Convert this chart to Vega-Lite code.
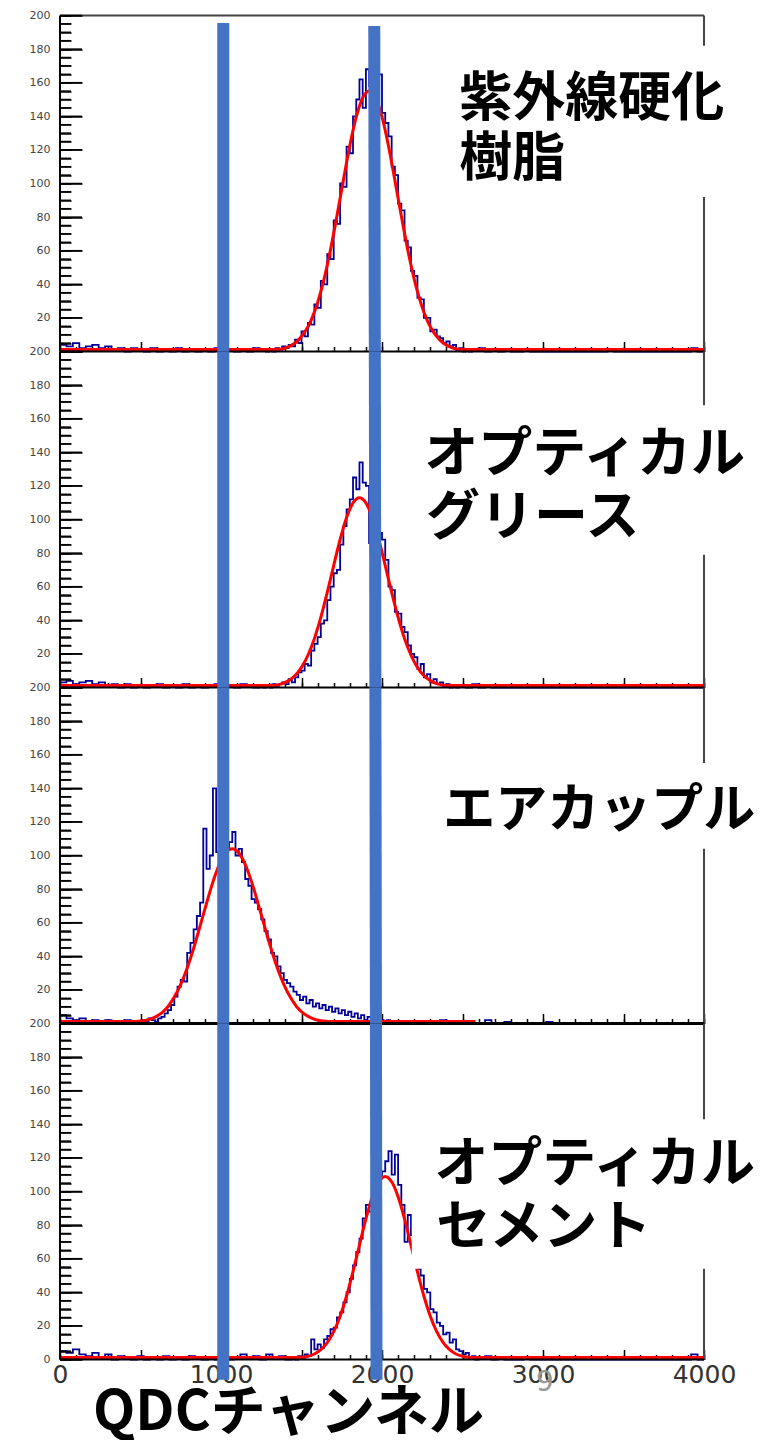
{
"$schema": "https://vega.github.io/schema/vega-lite/v6.json",
"background": "white",
"padding": {"left": 29, "top": 9.5, "right": 0, "bottom": 6},
"autosize": {"type": "pad"},
"spacing": 0,
"bounds": "flush",
"config": {"view": {"stroke": null}, "font": "DejaVu Sans", "axis": {"labelOverlap": false, "labelFlush": false, "labelBound": false, "grid": false, "title": null, "domain": false}},
"datasets": {
"ymaj": [{"v":0},{"v":20},{"v":40},{"v":60},{"v":80},{"v":100},{"v":120},{"v":140},{"v":160},{"v":180},{"v":200}],
"ymin": [{"v":5},{"v":10},{"v":15},{"v":25},{"v":30},{"v":35},{"v":45},{"v":50},{"v":55},{"v":65},{"v":70},{"v":75},{"v":85},{"v":90},{"v":95},{"v":105},{"v":110},{"v":115},{"v":125},{"v":130},{"v":135},{"v":145},{"v":150},{"v":155},{"v":165},{"v":170},{"v":175},{"v":185},{"v":190},{"v":195}],
"h1": [{"x":0,"y":4},{"x":40,"y":3},{"x":80,"y":5},{"x":120,"y":2},{"x":160,"y":3},{"x":200,"y":4},{"x":240,"y":2},{"x":280,"y":3},{"x":320,"y":1},{"x":360,"y":2},{"x":400,"y":0},{"x":440,"y":2},{"x":480,"y":1},{"x":520,"y":0},{"x":560,"y":2},{"x":600,"y":0},{"x":640,"y":1},{"x":680,"y":0},{"x":720,"y":2},{"x":760,"y":0},{"x":800,"y":1},{"x":840,"y":0},{"x":880,"y":1},{"x":920,"y":0},{"x":960,"y":2},{"x":1000,"y":0},{"x":1040,"y":1},{"x":1080,"y":0},{"x":1120,"y":1},{"x":1160,"y":0},{"x":1200,"y":2},{"x":1240,"y":1},{"x":1280,"y":0},
{"x":1300,"y":1},{"x":1320,"y":0},{"x":1340,"y":2},{"x":1360,"y":1},{"x":1380,"y":3},{"x":1400,"y":2},{"x":1420,"y":4},{"x":1440,"y":3},{"x":1460,"y":7},{"x":1480,"y":5},{"x":1500,"y":12},{"x":1520,"y":9},{"x":1540,"y":17},{"x":1560,"y":16},{"x":1580,"y":28},{"x":1600,"y":26},{"x":1620,"y":42},{"x":1640,"y":40},{"x":1660,"y":58},{"x":1680,"y":55},{"x":1700,"y":78},{"x":1720,"y":76},{"x":1740,"y":100},{"x":1760,"y":98},{"x":1780,"y":122},{"x":1800,"y":118},{"x":1820,"y":140},{"x":1840,"y":150},{"x":1860,"y":162},{"x":1880,"y":145},{"x":1900,"y":168},{"x":1920,"y":158},{"x":1940,"y":176},{"x":1960,"y":150},{"x":1980,"y":165},{"x":2000,"y":142},{"x":2020,"y":136},{"x":2040,"y":128},{"x":2060,"y":110},{"x":2080,"y":105},{"x":2100,"y":88},{"x":2120,"y":84},{"x":2140,"y":66},{"x":2160,"y":62},{"x":2180,"y":48},{"x":2200,"y":45},{"x":2220,"y":32},{"x":2240,"y":31},{"x":2260,"y":20},{"x":2280,"y":20},{"x":2300,"y":12},{"x":2320,"y":13},{"x":2340,"y":9},{"x":2360,"y":8},{"x":2380,"y":5},{"x":2400,"y":6},{"x":2420,"y":3},{"x":2440,"y":4},{"x":2460,"y":1},{"x":2480,"y":2},{"x":2500,"y":0},{"x":2520,"y":1},{"x":2540,"y":0},
{"x":2560,"y":1},{"x":2600,"y":2},{"x":2640,"y":0},{"x":2680,"y":1},{"x":2720,"y":0},{"x":2760,"y":1},{"x":2800,"y":0},{"x":2880,"y":1},{"x":2920,"y":0},{"x":3400,"y":1},{"x":3440,"y":0},{"x":3920,"y":2},{"x":3960,"y":0},{"x":4000,"y":0}],
"h2": [{"x":0,"y":3},{"x":40,"y":4},{"x":80,"y":2},{"x":120,"y":3},{"x":160,"y":4},{"x":200,"y":2},{"x":240,"y":3},{"x":280,"y":1},{"x":320,"y":2},{"x":360,"y":0},{"x":400,"y":2},{"x":440,"y":0},{"x":480,"y":1},{"x":520,"y":0},{"x":560,"y":1},{"x":600,"y":2},{"x":640,"y":0},{"x":680,"y":1},{"x":720,"y":0},{"x":760,"y":2},{"x":800,"y":0},{"x":840,"y":1},{"x":880,"y":0},{"x":920,"y":1},{"x":960,"y":2},{"x":1000,"y":0},{"x":1040,"y":1},{"x":1080,"y":0},{"x":1120,"y":2},{"x":1160,"y":1},{"x":1200,"y":0},{"x":1240,"y":1},
{"x":1260,"y":0},{"x":1280,"y":1},{"x":1300,"y":0},{"x":1320,"y":2},{"x":1340,"y":1},{"x":1360,"y":2},{"x":1380,"y":3},{"x":1400,"y":2},{"x":1420,"y":5},{"x":1440,"y":3},{"x":1460,"y":6},{"x":1480,"y":9},{"x":1500,"y":10},{"x":1520,"y":14},{"x":1540,"y":13},{"x":1560,"y":22},{"x":1580,"y":26},{"x":1600,"y":30},{"x":1620,"y":38},{"x":1640,"y":40},{"x":1660,"y":52},{"x":1680,"y":60},{"x":1700,"y":68},{"x":1720,"y":70},{"x":1740,"y":85},{"x":1760,"y":96},{"x":1780,"y":106},{"x":1800,"y":112},{"x":1820,"y":125},{"x":1840,"y":118},{"x":1860,"y":134},{"x":1880,"y":122},{"x":1900,"y":120},{"x":1920,"y":86},{"x":1940,"y":108},{"x":1960,"y":100},{"x":1980,"y":92},{"x":2000,"y":88},{"x":2020,"y":76},{"x":2040,"y":60},{"x":2060,"y":58},{"x":2080,"y":45},{"x":2100,"y":44},{"x":2120,"y":36},{"x":2140,"y":33},{"x":2160,"y":25},{"x":2180,"y":20},{"x":2200,"y":18},{"x":2220,"y":11},{"x":2240,"y":14},{"x":2260,"y":6},{"x":2280,"y":8},{"x":2300,"y":3},{"x":2320,"y":5},{"x":2340,"y":2},{"x":2360,"y":3},{"x":2380,"y":1},{"x":2400,"y":2},{"x":2420,"y":0},{"x":2440,"y":1},{"x":2460,"y":0},
{"x":2480,"y":1},{"x":2520,"y":0},{"x":2560,"y":2},{"x":2600,"y":0},{"x":2640,"y":1},{"x":2680,"y":0},{"x":4000,"y":0}],
"h3": [{"x":0,"y":5},{"x":40,"y":3},{"x":80,"y":2},{"x":120,"y":3},{"x":160,"y":1},{"x":200,"y":2},{"x":240,"y":0},{"x":280,"y":2},{"x":320,"y":1},{"x":360,"y":0},{"x":400,"y":2},{"x":440,"y":1},
{"x":470,"y":1},{"x":490,"y":0},{"x":510,"y":2},{"x":530,"y":1},{"x":550,"y":3},{"x":570,"y":2},{"x":590,"y":1},{"x":610,"y":3},{"x":630,"y":4},{"x":650,"y":6},{"x":670,"y":8},{"x":690,"y":11},{"x":710,"y":16},{"x":730,"y":22},{"x":750,"y":26},{"x":770,"y":25},{"x":790,"y":42},{"x":810,"y":48},{"x":830,"y":56},{"x":850,"y":64},{"x":870,"y":72},{"x":890,"y":116},{"x":910,"y":92},{"x":930,"y":100},{"x":950,"y":140},{"x":970,"y":102},{"x":990,"y":100},{"x":1010,"y":106},{"x":1030,"y":104},{"x":1050,"y":108},{"x":1070,"y":114},{"x":1090,"y":100},{"x":1110,"y":104},{"x":1130,"y":96},{"x":1150,"y":86},{"x":1170,"y":82},{"x":1190,"y":74},{"x":1210,"y":72},{"x":1230,"y":68},{"x":1250,"y":62},{"x":1270,"y":55},{"x":1290,"y":50},{"x":1310,"y":42},{"x":1330,"y":40},{"x":1350,"y":34},{"x":1370,"y":30},{"x":1390,"y":26},{"x":1410,"y":24},{"x":1430,"y":22},{"x":1450,"y":19},{"x":1470,"y":17},{"x":1490,"y":14},{"x":1510,"y":16},{"x":1530,"y":12},{"x":1550,"y":14},{"x":1570,"y":10},{"x":1590,"y":12},{"x":1610,"y":9},{"x":1630,"y":11},{"x":1650,"y":8},{"x":1670,"y":10},{"x":1690,"y":7},{"x":1710,"y":9},{"x":1730,"y":6},{"x":1750,"y":8},{"x":1770,"y":5},{"x":1790,"y":7},{"x":1810,"y":4},{"x":1830,"y":6},{"x":1850,"y":3},{"x":1870,"y":5},{"x":1890,"y":2},{"x":1910,"y":4},{"x":1930,"y":2},{"x":1950,"y":3},{"x":1970,"y":1},{"x":1990,"y":2},{"x":2010,"y":1},{"x":2030,"y":2},{"x":2050,"y":0},{"x":2070,"y":1},{"x":2090,"y":0},
{"x":2200,"y":1},{"x":2240,"y":0},{"x":2360,"y":2},{"x":2400,"y":0},{"x":2640,"y":2},{"x":2680,"y":0},{"x":2760,"y":1},{"x":2800,"y":0},{"x":3020,"y":1},{"x":3060,"y":0},{"x":4000,"y":0}],
"h4": [{"x":0,"y":5},{"x":40,"y":4},{"x":80,"y":6},{"x":120,"y":3},{"x":160,"y":2},{"x":200,"y":4},{"x":240,"y":1},{"x":280,"y":3},{"x":320,"y":0},{"x":360,"y":2},{"x":400,"y":1},{"x":440,"y":0},{"x":480,"y":2},{"x":520,"y":0},{"x":560,"y":1},{"x":600,"y":0},{"x":640,"y":2},{"x":680,"y":0},{"x":720,"y":1},{"x":760,"y":0},{"x":800,"y":2},{"x":840,"y":1},{"x":880,"y":0},{"x":920,"y":1},{"x":960,"y":0},{"x":1000,"y":2},{"x":1040,"y":0},{"x":1080,"y":1},{"x":1120,"y":3},{"x":1160,"y":1},{"x":1200,"y":2},{"x":1240,"y":0},{"x":1280,"y":3},{"x":1320,"y":1},{"x":1360,"y":2},{"x":1400,"y":0},
{"x":1440,"y":1},{"x":1460,"y":0},{"x":1480,"y":2},{"x":1500,"y":1},{"x":1520,"y":3},{"x":1540,"y":2},{"x":1560,"y":12},{"x":1580,"y":6},{"x":1600,"y":9},{"x":1620,"y":7},{"x":1640,"y":12},{"x":1660,"y":14},{"x":1680,"y":18},{"x":1700,"y":19},{"x":1720,"y":25},{"x":1740,"y":28},{"x":1760,"y":34},{"x":1780,"y":40},{"x":1800,"y":48},{"x":1820,"y":56},{"x":1840,"y":64},{"x":1860,"y":72},{"x":1880,"y":84},{"x":1900,"y":92},{"x":1920,"y":88},{"x":1940,"y":102},{"x":1960,"y":96},{"x":1980,"y":108},{"x":2000,"y":112},{"x":2020,"y":118},{"x":2040,"y":124},{"x":2060,"y":110},{"x":2080,"y":122},{"x":2100,"y":104},{"x":2120,"y":92},{"x":2140,"y":70},{"x":2160,"y":86},{"x":2180,"y":74},{"x":2200,"y":62},{"x":2220,"y":54},{"x":2240,"y":50},{"x":2260,"y":42},{"x":2280,"y":40},{"x":2300,"y":30},{"x":2320,"y":28},{"x":2340,"y":22},{"x":2360,"y":20},{"x":2380,"y":15},{"x":2400,"y":16},{"x":2420,"y":10},{"x":2440,"y":12},{"x":2460,"y":6},{"x":2480,"y":5},{"x":2500,"y":3},{"x":2520,"y":4},{"x":2540,"y":1},{"x":2560,"y":2},{"x":2580,"y":0},{"x":2600,"y":1},
{"x":2640,"y":2},{"x":2680,"y":0},{"x":2720,"y":1},{"x":2760,"y":0},{"x":2880,"y":1},{"x":2920,"y":0},{"x":3920,"y":3},{"x":3960,"y":0},{"x":4000,"y":0}],
"f1": [{"x":0,"y":1.2},{"x":1320,"y":1.2},{"x":1360,"y":1.3},{"x":1400,"y":2.1},{"x":1440,"y":3.8},{"x":1480,"y":6.8},{"x":1520,"y":11.5},{"x":1560,"y":18.7},{"x":1600,"y":29.1},{"x":1640,"y":43.1},{"x":1680,"y":60.5},{"x":1720,"y":80.7},{"x":1760,"y":102},{"x":1800,"y":122.5},{"x":1840,"y":139.6},{"x":1880,"y":151},{"x":1920,"y":155},{"x":1960,"y":151},{"x":2000,"y":139.6},{"x":2040,"y":122.5},{"x":2080,"y":102},{"x":2120,"y":80.7},{"x":2160,"y":60.5},{"x":2200,"y":43.1},{"x":2240,"y":29.1},{"x":2280,"y":18.7},{"x":2320,"y":11.5},{"x":2360,"y":6.8},{"x":2400,"y":3.8},{"x":2440,"y":2.1},{"x":2480,"y":1.3},{"x":2520,"y":1.2},{"x":4000,"y":1.2}],
"f2": [{"x":0,"y":1.2},{"x":1300,"y":1.2},{"x":1340,"y":1.4},{"x":1380,"y":2.3},{"x":1420,"y":4.1},{"x":1460,"y":7.1},{"x":1500,"y":12.0},{"x":1540,"y":19.2},{"x":1580,"y":29.1},{"x":1620,"y":41.7},{"x":1660,"y":56.6},{"x":1700,"y":72.6},{"x":1740,"y":88.1},{"x":1780,"y":101.2},{"x":1820,"y":109.9},{"x":1860,"y":113},{"x":1900,"y":109.9},{"x":1940,"y":101.2},{"x":1980,"y":88.1},{"x":2020,"y":72.6},{"x":2060,"y":56.6},{"x":2100,"y":41.7},{"x":2140,"y":29.1},{"x":2180,"y":19.2},{"x":2220,"y":12.0},{"x":2260,"y":7.1},{"x":2300,"y":4.1},{"x":2340,"y":2.3},{"x":2380,"y":1.4},{"x":2420,"y":1.2},{"x":4000,"y":1.2}],
"f3": [{"x":0,"y":1.2},{"x":470,"y":1.2},{"x":510,"y":1.5},{"x":550,"y":2.2},{"x":590,"y":3.8},{"x":630,"y":6.2},{"x":670,"y":10.0},{"x":710,"y":15.7},{"x":750,"y":23.3},{"x":790,"y":33.1},{"x":830,"y":44.8},{"x":870,"y":58.0},{"x":910,"y":71.5},{"x":950,"y":84.3},{"x":990,"y":94.7},{"x":1030,"y":101.6},{"x":1070,"y":104},{"x":1110,"y":101.6},{"x":1150,"y":94.7},{"x":1190,"y":84.3},{"x":1230,"y":71.5},{"x":1270,"y":58.0},{"x":1310,"y":44.8},{"x":1350,"y":33.1},{"x":1390,"y":23.3},{"x":1430,"y":15.7},{"x":1470,"y":10.0},{"x":1510,"y":6.2},{"x":1550,"y":3.8},{"x":1590,"y":2.2},{"x":1630,"y":1.5},{"x":1670,"y":1.2},{"x":2580,"y":1.2}],
"f4": [{"x":0,"y":1.2},{"x":1460,"y":1.2},{"x":1500,"y":1.3},{"x":1540,"y":1.9},{"x":1580,"y":3.3},{"x":1620,"y":5.9},{"x":1660,"y":10.1},{"x":1700,"y":16.6},{"x":1740,"y":25.8},{"x":1780,"y":37.8},{"x":1820,"y":52.3},{"x":1860,"y":68.1},{"x":1900,"y":83.7},{"x":1940,"y":96.9},{"x":1980,"y":105.8},{"x":2020,"y":109},{"x":2060,"y":105.8},{"x":2100,"y":96.9},{"x":2140,"y":83.7},{"x":2180,"y":68.1},{"x":2220,"y":52.3},{"x":2260,"y":37.8},{"x":2300,"y":25.8},{"x":2340,"y":16.6},{"x":2380,"y":10.1},{"x":2420,"y":5.9},{"x":2460,"y":3.3},{"x":2500,"y":1.9},{"x":2540,"y":1.3},{"x":2580,"y":1.2},{"x":4000,"y":1.2}],
"one": [{}]
},
"vconcat": [
{
"width": 644, "height": 336,
"resolve": {"axis": {"x": "independent", "y": "independent"}},
"layer": [
{"data": {"name": "h1"}, "mark": {"type": "line", "interpolate": "step-after", "color": "#000099", "strokeWidth": 1.8},
 "encoding": {
  "x": {"field": "x", "type": "quantitative", "scale": {"domain": [0, 4000], "nice": false, "zero": false},
   "axis": {"orient": "bottom", "values": [0,500,1000,1500,2000,2500,3000,3500,4000], "labels": false, "tickColor": "#000000", "tickWidth": 1.5, "tickSize": 10, "offset": -10}},
  "y": {"field": "y", "type": "quantitative", "scale": {"domain": [0, 200], "nice": false, "zero": false},
   "axis": {"orient": "left", "values": [0,20,40,60,80,100,120,140,160,180,200], "format": "d", "ticks": true, "tickColor": "#000000", "tickWidth": 1.5, "tickOpacity": 1, "tickSize": 22, "offset": -22, "zindex": 2, "labelExpr": "datum.value > 0 ? datum.label : ''", "labelPadding": 10, "labelFont": "DejaVu Sans", "labelFontSize": 11, "labelColor": "#444444"}}
 }},
{"data": {"name": "f1"}, "mark": {"type": "line", "interpolate": "monotone", "color": "#ff0000", "strokeWidth": 3},
 "encoding": {
  "x": {"field": "x", "type": "quantitative", "axis": {"orient": "bottom", "values": [0,100,200,300,400,500,600,700,800,900,1000,1100,1200,1300,1400,1500,1600,1700,1800,1900,2000,2100,2200,2300,2400,2500,2600,2700,2800,2900,3000,3100,3200,3300,3400,3500,3600,3700,3800,3900,4000], "labels": false, "tickColor": "#000000", "tickWidth": 1.5, "tickSize": 5, "offset": -5}},
  "y": {"field": "y", "type": "quantitative", "axis": {"orient": "left", "values": [0,5,10,15,20,25,30,35,40,45,50,55,60,65,70,75,80,85,90,95,100,105,110,115,120,125,130,135,140,145,150,155,160,165,170,175,180,185,190,195,200], "labels": false, "ticks": true, "tickColor": "#000000", "tickWidth": 1.5, "tickOpacity": 1, "tickSize": 11, "offset": -11, "zindex": 2}}
 }},
{"data": {"name": "one"}, "mark": {"type": "rule", "color": "#444444", "strokeWidth": 2}, "encoding": {"x": {"datum": 0, "axis": null}, "x2": {"datum": 4000}, "y": {"datum": 200, "axis": null}}},
{"data": {"name": "one"}, "mark": {"type": "rule", "color": "#444444", "strokeWidth": 2}, "encoding": {"x": {"datum": 4000, "axis": null}, "y": {"datum": 0, "axis": null}, "y2": {"datum": 92}}},
{"data": {"name": "one"}, "mark": {"type": "rule", "color": "#444444", "strokeWidth": 2}, "encoding": {"x": {"datum": 4000, "axis": null}, "y": {"datum": 182, "axis": null}, "y2": {"datum": 200}}},
{"data": {"name": "one"}, "mark": {"type": "rule", "color": "#000000", "strokeWidth": 2}, "encoding": {"x": {"datum": 0, "axis": null}, "y": {"datum": 0, "axis": null}, "y2": {"datum": 200}}},
{"data": {"name": "one"}, "mark": {"type": "rule", "color": "#000000", "strokeWidth": 2}, "encoding": {"x": {"datum": 0, "axis": null}, "x2": {"datum": 4000}, "y": {"datum": 0, "axis": null}}},
{"data": {"name": "one"}, "mark": {"type": "rule", "color": "#4472C4", "strokeWidth": 12}, "encoding": {"x": {"datum": 1014, "axis": null}, "y": {"datum": 195.5, "axis": null}, "y2": {"datum": 0}}},
{"data": {"name": "one"}, "mark": {"type": "rule", "color": "#4472C4", "strokeWidth": 12}, "encoding": {"x": {"datum": 1952, "axis": null}, "x2": {"datum": 1955.4}, "y": {"datum": 193.7, "axis": null}, "y2": {"datum": 0}}},
{"data": {"name": "one"}, "mark": {"type": "text", "text": "紫外線硬化", "align": "left", "baseline": "middle", "font": "Noto Sans CJK JP", "fontWeight": "bold", "fontSize": 53, "color": "#000000"}, "encoding": {"x": {"datum": 2480, "axis": null}, "y": {"datum": 149.8, "axis": null}}},
{"data": {"name": "one"}, "mark": {"type": "text", "text": "樹脂", "align": "left", "baseline": "middle", "font": "Noto Sans CJK JP", "fontWeight": "bold", "fontSize": 53, "color": "#000000"}, "encoding": {"x": {"datum": 2480, "axis": null}, "y": {"datum": 114, "axis": null}}},
{"data": {"name": "ymaj"}, "mark": {"type": "rule", "color": "#000000", "strokeWidth": 1.5}, "encoding": {"x": {"datum": 0, "axis": null}, "x2": {"datum": 137}, "y": {"field": "v", "type": "quantitative", "axis": null}}},
{"data": {"name": "ymin"}, "mark": {"type": "rule", "color": "#000000", "strokeWidth": 1.5}, "encoding": {"x": {"datum": 0, "axis": null}, "x2": {"datum": 68}, "y": {"field": "v", "type": "quantitative", "axis": null}}}
]
},
{
"width": 644, "height": 336,
"resolve": {"axis": {"x": "independent", "y": "independent"}},
"layer": [
{"data": {"name": "h2"}, "mark": {"type": "line", "interpolate": "step-after", "color": "#000099", "strokeWidth": 1.8},
 "encoding": {
  "x": {"field": "x", "type": "quantitative", "scale": {"domain": [0, 4000], "nice": false, "zero": false},
   "axis": {"orient": "bottom", "values": [0,500,1000,1500,2000,2500,3000,3500,4000], "labels": false, "tickColor": "#000000", "tickWidth": 1.5, "tickSize": 10, "offset": -10}},
  "y": {"field": "y", "type": "quantitative", "scale": {"domain": [0, 200], "nice": false, "zero": false},
   "axis": {"orient": "left", "values": [0,20,40,60,80,100,120,140,160,180,200], "format": "d", "ticks": true, "tickColor": "#000000", "tickWidth": 1.5, "tickOpacity": 1, "tickSize": 22, "offset": -22, "zindex": 2, "labelExpr": "datum.value > 0 ? datum.label : ''", "labelPadding": 10, "labelFont": "DejaVu Sans", "labelFontSize": 11, "labelColor": "#444444"}}
 }},
{"data": {"name": "f2"}, "mark": {"type": "line", "interpolate": "monotone", "color": "#ff0000", "strokeWidth": 3},
 "encoding": {
  "x": {"field": "x", "type": "quantitative", "axis": {"orient": "bottom", "values": [0,100,200,300,400,500,600,700,800,900,1000,1100,1200,1300,1400,1500,1600,1700,1800,1900,2000,2100,2200,2300,2400,2500,2600,2700,2800,2900,3000,3100,3200,3300,3400,3500,3600,3700,3800,3900,4000], "labels": false, "tickColor": "#000000", "tickWidth": 1.5, "tickSize": 5, "offset": -5}},
  "y": {"field": "y", "type": "quantitative", "axis": {"orient": "left", "values": [0,5,10,15,20,25,30,35,40,45,50,55,60,65,70,75,80,85,90,95,100,105,110,115,120,125,130,135,140,145,150,155,160,165,170,175,180,185,190,195,200], "labels": false, "ticks": true, "tickColor": "#000000", "tickWidth": 1.5, "tickOpacity": 1, "tickSize": 11, "offset": -11, "zindex": 2}}
 }},
{"data": {"name": "one"}, "mark": {"type": "rule", "color": "#444444", "strokeWidth": 2}, "encoding": {"x": {"datum": 4000, "axis": null}, "y": {"datum": 0, "axis": null}, "y2": {"datum": 79}}},
{"data": {"name": "one"}, "mark": {"type": "rule", "color": "#444444", "strokeWidth": 2}, "encoding": {"x": {"datum": 4000, "axis": null}, "y": {"datum": 168, "axis": null}, "y2": {"datum": 200}}},
{"data": {"name": "one"}, "mark": {"type": "rule", "color": "#000000", "strokeWidth": 2}, "encoding": {"x": {"datum": 0, "axis": null}, "y": {"datum": 0, "axis": null}, "y2": {"datum": 200}}},
{"data": {"name": "one"}, "mark": {"type": "rule", "color": "#000000", "strokeWidth": 2}, "encoding": {"x": {"datum": 0, "axis": null}, "x2": {"datum": 4000}, "y": {"datum": 0, "axis": null}}},
{"data": {"name": "one"}, "mark": {"type": "rule", "color": "#4472C4", "strokeWidth": 12}, "encoding": {"x": {"datum": 1014, "axis": null}, "y": {"datum": 200, "axis": null}, "y2": {"datum": 0}}},
{"data": {"name": "one"}, "mark": {"type": "rule", "color": "#4472C4", "strokeWidth": 12}, "encoding": {"x": {"datum": 1955.4, "axis": null}, "x2": {"datum": 1958.9}, "y": {"datum": 200, "axis": null}, "y2": {"datum": 0}}},
{"data": {"name": "one"}, "mark": {"type": "text", "text": "オプティカル", "align": "left", "baseline": "middle", "font": "Noto Sans CJK JP", "fontWeight": "bold", "fontSize": 54, "color": "#000000"}, "encoding": {"x": {"datum": 2262, "axis": null}, "y": {"datum": 138, "axis": null}}},
{"data": {"name": "one"}, "mark": {"type": "text", "text": "グリース", "align": "left", "baseline": "middle", "font": "Noto Sans CJK JP", "fontWeight": "bold", "fontSize": 54, "color": "#000000"}, "encoding": {"x": {"datum": 2274, "axis": null}, "y": {"datum": 100.5, "axis": null}}},
{"data": {"name": "ymaj"}, "mark": {"type": "rule", "color": "#000000", "strokeWidth": 1.5}, "encoding": {"x": {"datum": 0, "axis": null}, "x2": {"datum": 137}, "y": {"field": "v", "type": "quantitative", "axis": null}}},
{"data": {"name": "ymin"}, "mark": {"type": "rule", "color": "#000000", "strokeWidth": 1.5}, "encoding": {"x": {"datum": 0, "axis": null}, "x2": {"datum": 68}, "y": {"field": "v", "type": "quantitative", "axis": null}}}
]
},
{
"width": 644, "height": 336,
"resolve": {"axis": {"x": "independent", "y": "independent"}},
"layer": [
{"data": {"name": "h3"}, "mark": {"type": "line", "interpolate": "step-after", "color": "#000099", "strokeWidth": 1.8},
 "encoding": {
  "x": {"field": "x", "type": "quantitative", "scale": {"domain": [0, 4000], "nice": false, "zero": false},
   "axis": {"orient": "bottom", "values": [0,500,1000,1500,2000,2500,3000,3500,4000], "labels": false, "tickColor": "#000000", "tickWidth": 1.5, "tickSize": 10, "offset": -10}},
  "y": {"field": "y", "type": "quantitative", "scale": {"domain": [0, 200], "nice": false, "zero": false},
   "axis": {"orient": "left", "values": [0,20,40,60,80,100,120,140,160,180,200], "format": "d", "ticks": true, "tickColor": "#000000", "tickWidth": 1.5, "tickOpacity": 1, "tickSize": 22, "offset": -22, "zindex": 2, "labelExpr": "datum.value > 0 ? datum.label : ''", "labelPadding": 10, "labelFont": "DejaVu Sans", "labelFontSize": 11, "labelColor": "#444444"}}
 }},
{"data": {"name": "f3"}, "mark": {"type": "line", "interpolate": "monotone", "color": "#ff0000", "strokeWidth": 3},
 "encoding": {
  "x": {"field": "x", "type": "quantitative", "axis": {"orient": "bottom", "values": [0,100,200,300,400,500,600,700,800,900,1000,1100,1200,1300,1400,1500,1600,1700,1800,1900,2000,2100,2200,2300,2400,2500,2600,2700,2800,2900,3000,3100,3200,3300,3400,3500,3600,3700,3800,3900,4000], "labels": false, "tickColor": "#000000", "tickWidth": 1.5, "tickSize": 5, "offset": -5}},
  "y": {"field": "y", "type": "quantitative", "axis": {"orient": "left", "values": [0,5,10,15,20,25,30,35,40,45,50,55,60,65,70,75,80,85,90,95,100,105,110,115,120,125,130,135,140,145,150,155,160,165,170,175,180,185,190,195,200], "labels": false, "ticks": true, "tickColor": "#000000", "tickWidth": 1.5, "tickOpacity": 1, "tickSize": 11, "offset": -11, "zindex": 2}}
 }},
{"data": {"name": "one"}, "mark": {"type": "rule", "color": "#444444", "strokeWidth": 2}, "encoding": {"x": {"datum": 4000, "axis": null}, "y": {"datum": 0, "axis": null}, "y2": {"datum": 104}}},
{"data": {"name": "one"}, "mark": {"type": "rule", "color": "#444444", "strokeWidth": 2}, "encoding": {"x": {"datum": 4000, "axis": null}, "y": {"datum": 155, "axis": null}, "y2": {"datum": 200}}},
{"data": {"name": "one"}, "mark": {"type": "rule", "color": "#000000", "strokeWidth": 2}, "encoding": {"x": {"datum": 0, "axis": null}, "y": {"datum": 0, "axis": null}, "y2": {"datum": 200}}},
{"data": {"name": "one"}, "mark": {"type": "rule", "color": "#000000", "strokeWidth": 3}, "encoding": {"x": {"datum": 0, "axis": null}, "x2": {"datum": 4000}, "y": {"datum": 0, "axis": null}}},
{"data": {"name": "one"}, "mark": {"type": "rule", "color": "#4472C4", "strokeWidth": 12}, "encoding": {"x": {"datum": 1014, "axis": null}, "y": {"datum": 200, "axis": null}, "y2": {"datum": 0}}},
{"data": {"name": "one"}, "mark": {"type": "rule", "color": "#4472C4", "strokeWidth": 12}, "encoding": {"x": {"datum": 1958.9, "axis": null}, "x2": {"datum": 1962.4}, "y": {"datum": 200, "axis": null}, "y2": {"datum": 0}}},
{"data": {"name": "one"}, "mark": {"type": "text", "text": "エアカップル", "align": "left", "baseline": "middle", "font": "Noto Sans CJK JP", "fontWeight": "bold", "fontSize": 52, "color": "#000000"}, "encoding": {"x": {"datum": 2380, "axis": null}, "y": {"datum": 126.5, "axis": null}}},
{"data": {"name": "ymaj"}, "mark": {"type": "rule", "color": "#000000", "strokeWidth": 1.5}, "encoding": {"x": {"datum": 0, "axis": null}, "x2": {"datum": 137}, "y": {"field": "v", "type": "quantitative", "axis": null}}},
{"data": {"name": "ymin"}, "mark": {"type": "rule", "color": "#000000", "strokeWidth": 1.5}, "encoding": {"x": {"datum": 0, "axis": null}, "x2": {"datum": 68}, "y": {"field": "v", "type": "quantitative", "axis": null}}}
]
},
{
"width": 644, "height": 336,
"resolve": {"axis": {"x": "independent", "y": "independent"}},
"layer": [
{"data": {"name": "h4"}, "mark": {"type": "line", "interpolate": "step-after", "color": "#000099", "strokeWidth": 1.8},
 "encoding": {
  "x": {"field": "x", "type": "quantitative", "scale": {"domain": [0, 4000], "nice": false, "zero": false},
   "axis": {"orient": "bottom", "values": [0,500,1000,1500,2000,2500,3000,3500,4000], "format": "d", "labelExpr": "datum.value % 1000 === 0 ? datum.label : ''", "labelPadding": 3, "labelFont": "DejaVu Sans", "labelFontSize": 25, "labelColor": "#333333", "tickColor": "#000000", "tickWidth": 1.5, "tickSize": 10, "offset": -10}},
  "y": {"field": "y", "type": "quantitative", "scale": {"domain": [0, 200], "nice": false, "zero": false},
   "axis": {"orient": "left", "values": [0,20,40,60,80,100,120,140,160,180,200], "format": "d", "ticks": true, "tickColor": "#000000", "tickWidth": 1.5, "tickOpacity": 1, "tickSize": 22, "offset": -22, "zindex": 2, "labelPadding": 10, "labelFont": "DejaVu Sans", "labelFontSize": 11, "labelColor": "#444444"}}
 }},
{"data": {"name": "f4"}, "mark": {"type": "line", "interpolate": "monotone", "color": "#ff0000", "strokeWidth": 3},
 "encoding": {
  "x": {"field": "x", "type": "quantitative", "axis": {"orient": "bottom", "values": [0,100,200,300,400,500,600,700,800,900,1000,1100,1200,1300,1400,1500,1600,1700,1800,1900,2000,2100,2200,2300,2400,2500,2600,2700,2800,2900,3000,3100,3200,3300,3400,3500,3600,3700,3800,3900,4000], "labels": false, "tickColor": "#000000", "tickWidth": 1.5, "tickSize": 5, "offset": -5}},
  "y": {"field": "y", "type": "quantitative", "axis": {"orient": "left", "values": [0,5,10,15,20,25,30,35,40,45,50,55,60,65,70,75,80,85,90,95,100,105,110,115,120,125,130,135,140,145,150,155,160,165,170,175,180,185,190,195,200], "labels": false, "ticks": true, "tickColor": "#000000", "tickWidth": 1.5, "tickOpacity": 1, "tickSize": 11, "offset": -11, "zindex": 2}}
 }},
{"data": {"name": "one"}, "mark": {"type": "rule", "color": "#444444", "strokeWidth": 2}, "encoding": {"x": {"datum": 4000, "axis": null}, "y": {"datum": 0, "axis": null}, "y2": {"datum": 54}}},
{"data": {"name": "one"}, "mark": {"type": "rule", "color": "#444444", "strokeWidth": 2}, "encoding": {"x": {"datum": 4000, "axis": null}, "y": {"datum": 143, "axis": null}, "y2": {"datum": 200}}},
{"data": {"name": "one"}, "mark": {"type": "rule", "color": "#000000", "strokeWidth": 2}, "encoding": {"x": {"datum": 0, "axis": null}, "y": {"datum": 0, "axis": null}, "y2": {"datum": 200}}},
{"data": {"name": "one"}, "mark": {"type": "rule", "color": "#000000", "strokeWidth": 2}, "encoding": {"x": {"datum": 0, "axis": null}, "x2": {"datum": 4000}, "y": {"datum": 0, "axis": null}}},
{"data": {"name": "one"}, "mark": {"type": "rule", "color": "#4472C4", "strokeWidth": 12}, "encoding": {"x": {"datum": 1014, "axis": null}, "y": {"datum": 200, "axis": null}, "y2": {"datum": -12}}},
{"data": {"name": "one"}, "mark": {"type": "rule", "color": "#4472C4", "strokeWidth": 12}, "encoding": {"x": {"datum": 1962.4, "axis": null}, "x2": {"datum": 1966}, "y": {"datum": 200, "axis": null}, "y2": {"datum": -12}}},
{"data": {"name": "one"}, "mark": {"type": "rect", "color": "#ffffff"}, "encoding": {"x": {"datum": 2185, "axis": null}, "x2": {"datum": 3990}, "y": {"datum": 54, "axis": null}, "y2": {"datum": 143}}},
{"data": {"name": "one"}, "mark": {"type": "text", "text": "オプティカル", "align": "left", "baseline": "middle", "font": "Noto Sans CJK JP", "fontWeight": "bold", "fontSize": 54, "color": "#000000"}, "encoding": {"x": {"datum": 2325, "axis": null}, "y": {"datum": 115, "axis": null}}},
{"data": {"name": "one"}, "mark": {"type": "text", "text": "セメント", "align": "left", "baseline": "middle", "font": "Noto Sans CJK JP", "fontWeight": "bold", "fontSize": 54, "color": "#000000"}, "encoding": {"x": {"datum": 2337, "axis": null}, "y": {"datum": 77.4, "axis": null}}},
{"data": {"name": "one"}, "mark": {"type": "text", "text": "9", "align": "center", "baseline": "middle", "font": "DejaVu Sans", "fontSize": 28, "color": "#999999"}, "encoding": {"x": {"datum": 3012, "axis": null}, "y": {"datum": -14, "axis": null}}},
{"data": {"name": "one"}, "mark": {"type": "text", "text": "QDCチャンネル", "align": "left", "baseline": "middle", "font": "Noto Sans CJK JP", "fontWeight": "bold", "fontSize": 55, "color": "#000000"}, "encoding": {"x": {"datum": 205, "axis": null}, "y": {"datum": -32, "axis": null}}},
{"data": {"name": "ymaj"}, "mark": {"type": "rule", "color": "#000000", "strokeWidth": 1.5}, "encoding": {"x": {"datum": 0, "axis": null}, "x2": {"datum": 137}, "y": {"field": "v", "type": "quantitative", "axis": null}}},
{"data": {"name": "ymin"}, "mark": {"type": "rule", "color": "#000000", "strokeWidth": 1.5}, "encoding": {"x": {"datum": 0, "axis": null}, "x2": {"datum": 68}, "y": {"field": "v", "type": "quantitative", "axis": null}}}
]
}
]
}
